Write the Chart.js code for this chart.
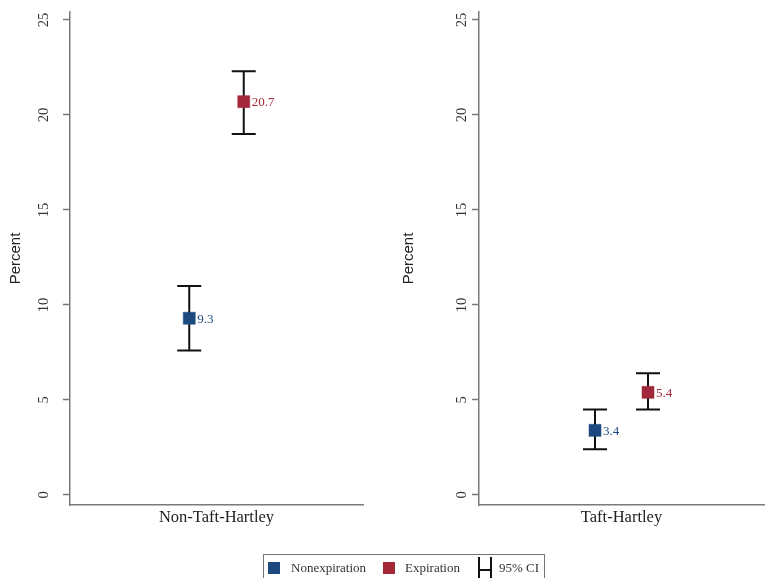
<!DOCTYPE html>
<html><head><meta charset="utf-8">
<script src="https://cdn.jsdelivr.net/npm/chart.js@4.4.1/dist/chart.umd.min.js"></script>
<style>
html,body{margin:0;padding:0;background:#fff;width:766px;height:578px;overflow:hidden;position:relative;}
.panel{position:absolute;top:0;height:578px;}
#p0{left:0;width:383px;}
#p1{left:383px;width:390px;}
#legend{position:absolute;left:263px;top:554px;width:282px;height:40px;border:1px solid #777;box-sizing:border-box;font-family:'Liberation Serif',serif;font-size:13px;color:#333;}
#legend .sq{position:absolute;top:7px;width:12px;height:12px;}
#legend .tx{position:absolute;top:5px;line-height:16px;white-space:nowrap;}
#legend .h{position:absolute;left:214px;top:2px;width:10px;height:30px;border-left:2px solid #111;border-right:2px solid #111;}
#legend .h i{position:absolute;left:0;right:0;top:12px;height:2px;background:#111;}
</style></head>
<body>
<div class="panel" id="p0"><canvas id="c0" width="383" height="578"></canvas></div>
<div class="panel" id="p1"><canvas id="c1" width="390" height="578"></canvas></div>
<div id="legend"></div>
<script>
// ---- data ----
const panels = ['Non-Taft-Hartley', 'Taft-Hartley'];
const seriesNames = ['Nonexpiration', 'Expiration'];
const nonexpValues = [9.3, 3.4];
const nonexpLow = [7.6, 2.4];
const nonexpHigh = [11.0, 4.5];
const expValues = [20.7, 5.4];
const expLow = [19.0, 4.5];
const expHigh = [22.3, 6.4];
const yTicks = [0, 5, 10, 15, 20, 25];
const ciLabel = '95% CI';

// ---- styles ----
const colors = ['#1c4a7e', '#a3293a'];
const axisColor = '#7a7a7a';
const serif = "'Liberation Serif', 'DejaVu Serif', serif";
const seriesOffset = [-0.093, 0.093];

const errorBars = {
  id: 'errorBars',
  beforeDatasetsDraw(chart) {
    const {ctx, scales: {x, y}} = chart;
    ctx.save();
    ctx.strokeStyle = '#111';
    ctx.lineWidth = 2;
    chart.data.datasets.forEach(ds => {
      const px = x.getPixelForValue(ds.data[0].x);
      const lo = y.getPixelForValue(ds.ciLow);
      const hi = y.getPixelForValue(ds.ciHigh);
      ctx.beginPath();
      ctx.moveTo(px, lo); ctx.lineTo(px, hi);
      ctx.moveTo(px - 12, lo); ctx.lineTo(px + 12, lo);
      ctx.moveTo(px - 12, hi); ctx.lineTo(px + 12, hi);
      ctx.stroke();
    });
    ctx.restore();
  },
  afterDatasetsDraw(chart) {
    const {ctx, scales: {x, y}} = chart;
    ctx.save();
    ctx.font = '13px ' + serif;
    ctx.textBaseline = 'middle';
    ctx.textAlign = 'left';
    chart.data.datasets.forEach(ds => {
      const px = x.getPixelForValue(ds.data[0].x);
      const py = y.getPixelForValue(ds.data[0].y);
      ctx.fillStyle = ds.backgroundColor;
      ctx.fillText(ds.data[0].y.toFixed(1), px + 8, py + 1);
    });
    ctx.restore();
  }
};

function makePanel(p, canvasId, yWidth, titlePad, tickPad, padRight) {
  const vals = [nonexpValues, expValues];
  const lows = [nonexpLow, expLow];
  const highs = [nonexpHigh, expHigh];
  const datasets = seriesNames.map((name, s) => ({
    label: name,
    data: [{x: 0.5 + seriesOffset[s], y: vals[s][p]}],
    ciLow: lows[s][p],
    ciHigh: highs[s][p],
    backgroundColor: colors[s],
    borderColor: colors[s],
    borderWidth: 0.5,
    pointStyle: 'rect',
    pointRadius: 8.5,
    showLine: false
  }));
  new Chart(document.getElementById(canvasId), {
    type: 'scatter',
    data: {datasets},
    options: {
      responsive: false,
      animation: false,
      layout: {padding: {top: 12, right: padRight, bottom: 33, left: 0}},
      plugins: {legend: {display: false}, tooltip: {enabled: false}},
      scales: {
        x: {
          type: 'linear', min: 0, max: 1,
          ticks: {display: false},
          grid: {display: false},
          border: {display: true, color: axisColor, width: 1.5},
          title: {display: true, text: panels[p], font: {family: serif, size: 16.5}, color: '#222', padding: {top: 0, bottom: 17}},
          afterFit(s) { s.height = 40; s.paddingLeft = 0; s.paddingRight = 0; }
        },
        y: {
          type: 'linear', min: -0.53, max: 25.42,
          afterBuildTicks(s) { s.ticks = yTicks.map(v => ({value: v})); },
          ticks: {minRotation: 90, maxRotation: 90, crossAlign: 'center', padding: tickPad, font: {family: serif, size: 14.5}, color: '#333'},
          grid: {display: true, drawOnChartArea: false, drawTicks: true, tickLength: 7, tickColor: axisColor, tickWidth: 1.5},
          border: {display: true, color: axisColor, width: 1.5},
          title: {display: true, text: 'Percent', font: {family: "'Liberation Sans Narrow', 'Liberation Sans', sans-serif", size: 15}, color: '#222', padding: {top: titlePad, bottom: 0}},
          afterFit(s) { s.width = yWidth; s.paddingTop = 0; s.paddingBottom = 0; }
        }
      }
    },
    plugins: [errorBars]
  });
}

makePanel(0, 'c0', 70, 6.5, 12, 20);
makePanel(1, 'c1', 96, 16.5, 3, 0);

// ---- legend ----
const lg = document.getElementById('legend');
const items = [
  {color: colors[0], text: seriesNames[0], sx: 4, tx: 27},
  {color: colors[1], text: seriesNames[1], sx: 119, tx: 141},
];
items.forEach(it => {
  const sq = document.createElement('div');
  sq.className = 'sq'; sq.style.left = it.sx + 'px'; sq.style.background = it.color;
  lg.appendChild(sq);
  const t = document.createElement('div');
  t.className = 'tx'; t.style.left = it.tx + 'px'; t.textContent = it.text;
  lg.appendChild(t);
});
const h = document.createElement('div'); h.className = 'h'; h.appendChild(document.createElement('i'));
lg.appendChild(h);
const ct = document.createElement('div'); ct.className = 'tx'; ct.style.left = '235px'; ct.textContent = ciLabel;
lg.appendChild(ct);
</script>
</body></html>
